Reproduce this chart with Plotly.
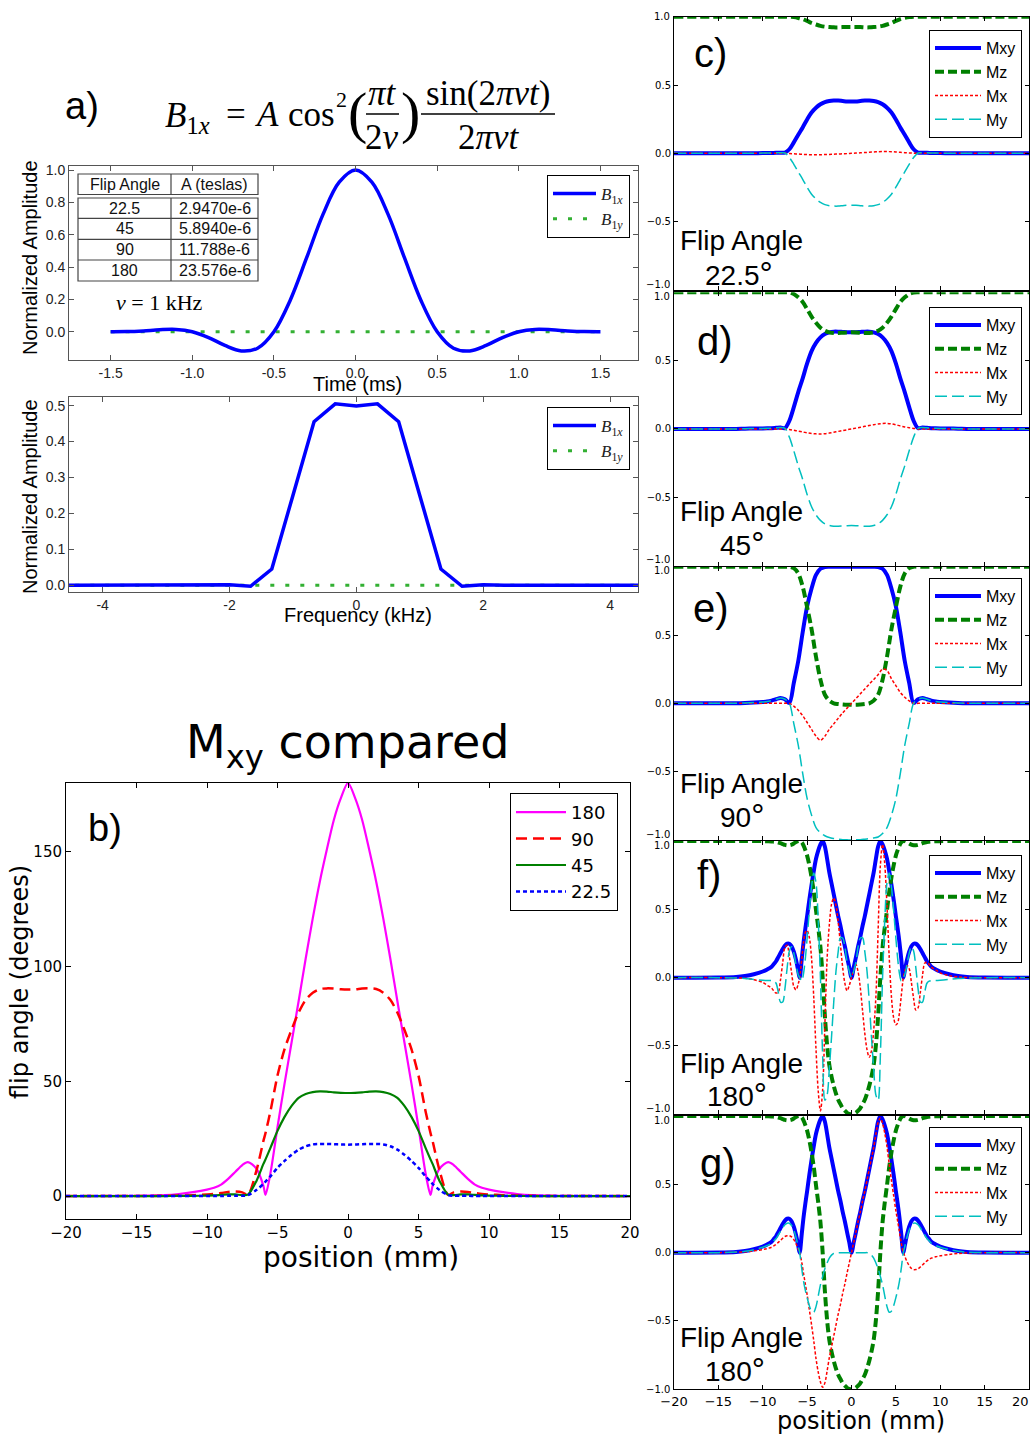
import plotly.graph_objects as go

W, H = 1034, 1437


def fx(px):
    return px / W


def fy(py):
    return 1 - py / H


# ============================ DATA ============================
# --- panel a (top): RF pulse in time ---
TIME_MS = [-1.5, -1.4, -1.3, -1.2, -1.1, -1.0, -0.9, -0.8, -0.7, -0.6, -0.5, -0.4, -0.3, -0.2, -0.1, 0.0,
           0.1, 0.2, 0.3, 0.4, 0.5, 0.6, 0.7, 0.8, 0.9, 1.0, 1.1, 1.2, 1.3, 1.4, 1.5]
B1X_TIME = [0.0, 0.0007, 0.005, 0.012, 0.014, 0.0, -0.036, -0.085, -0.119, -0.102, 0.0, 0.195, 0.456, 0.724, 0.925, 1.0,
            0.925, 0.724, 0.456, 0.195, 0.0, -0.102, -0.119, -0.085, -0.036, 0.0, 0.014, 0.012, 0.005, 0.0007, 0.0]
B1Y_TIME = [0.0, 0.0, 0.0, 0.0, 0.0, 0.0, 0.0, 0.0, 0.0, 0.0, 0.0, 0.0, 0.0, 0.0, 0.0, 0.0,
            0.0, 0.0, 0.0, 0.0, 0.0, 0.0, 0.0, 0.0, 0.0, 0.0, 0.0, 0.0, 0.0, 0.0, 0.0]

# --- panel a (bottom): spectrum ---
FREQ_KHZ = [-4.667, -4.333, -4.0, -3.667, -3.333, -3.0, -2.667, -2.333, -2.0, -1.667, -1.333, -1.0, -0.667, -0.333, 0.0,
            0.333, 0.667, 1.0, 1.333, 1.667, 2.0, 2.333, 2.667, 3.0, 3.333, 3.667, 4.0, 4.333, 4.667]
B1X_FREQ = [0.0, 0.0, 0.0, 0.0, 0.0, 0.0, 0.0005, 0.0, 0.0015, -0.003, 0.045, 0.25, 0.455, 0.505, 0.499,
            0.505, 0.455, 0.25, 0.045, -0.003, 0.0015, 0.0, 0.0005, 0.0, 0.0, 0.0, 0.0, 0.0, 0.0]
B1Y_FREQ = [0.0, 0.0, 0.0, 0.0, 0.0, 0.0, 0.0, 0.0, 0.0, 0.0, 0.0, 0.0, 0.0, 0.0, 0.0,
            0.0, 0.0, 0.0, 0.0, 0.0, 0.0, 0.0, 0.0, 0.0, 0.0, 0.0, 0.0, 0.0, 0.0]

TABLE_HEADER = ["Flip Angle", "A (teslas)"]
TABLE_FLIP = ["22.5", "45", "90", "180"]
TABLE_AMP = ["2.9470e-6", "5.8940e-6", "11.788e-6", "23.576e-6"]

# --- panel b: flip angle profiles ---
POS_B = [-20, -15, -13, -12, -11, -10, -9.5, -9, -8.5, -8, -7.5, -7.1, -6.5, -6, -5.85, -5.5, -5, -4.5, -4, -3.5, -3,
         -2.5, -2, -1.5, -1, -0.5, 0, 0.5, 1, 1.5, 2, 2.5, 3, 3.5, 4, 4.5, 5, 5.5, 5.85, 6, 6.5, 7.1, 7.5, 8, 8.5, 9,
         9.5, 10, 11, 12, 13, 15, 20]
FLIP_180 = [0, 0.1, 0.4, 0.9, 1.7, 2.8, 3.6, 5.0, 7.5, 10.5, 13.5, 14.8, 12.0, 4.5, 0.5, 10.0, 30.0, 49.0, 67.0, 85.0,
            103.5, 121.0, 137.0, 151.0, 164.0, 173.5, 180.0, 173.5, 164.0, 151.0, 137.0, 121.0, 103.5, 85.0, 67.0,
            49.0, 30.0, 10.0, 0.5, 4.5, 12.0, 14.8, 13.5, 10.5, 7.5, 5.0, 3.6, 2.8, 1.7, 0.9, 0.4, 0.1, 0]
FLIP_90 = [0, 0, 0.1, 0.2, 0.4, 0.7, 0.9, 1.3, 1.8, 2.0, 1.6, 0.5, 11.0, 24.0, 27.5, 37.0, 52.5, 64.0, 72.5, 80.0,
           85.5, 88.6, 90.2, 90.5, 90.4, 90.1, 90.0, 90.1, 90.4, 90.5, 90.2, 88.6, 85.5, 80.0, 72.5, 64.0, 52.5,
           37.0, 27.5, 24.0, 11.0, 0.5, 1.6, 2.0, 1.8, 1.3, 0.9, 0.7, 0.4, 0.2, 0.1, 0, 0]
FLIP_45 = [0, 0, 0, 0.05, 0.1, 0.2, 0.3, 0.5, 0.7, 0.7, 0.4, 0.6, 6.5, 14.0, 16.0, 21.0, 28.4, 34.5, 39.3, 42.8,
           44.5, 45.3, 45.6, 45.5, 45.2, 45.0, 44.9, 45.0, 45.2, 45.5, 45.6, 45.3, 44.5, 42.8, 39.3, 34.5, 28.4,
           21.0, 16.0, 14.0, 6.5, 0.6, 0.4, 0.7, 0.7, 0.5, 0.3, 0.2, 0.1, 0.05, 0, 0, 0]
FLIP_22_5 = [0, 0, 0, 0, 0, 0.02, 0.03, 0.05, 0.1, 0.15, 0.1, 0.4, 2.6, 5.3, 6.3, 8.6, 12.3, 15.3, 18.0, 20.2,
             21.7, 22.5, 22.7, 22.7, 22.6, 22.45, 22.4, 22.45, 22.6, 22.7, 22.7, 22.5, 21.7, 20.2, 18.0, 15.3, 12.3,
             8.6, 6.3, 5.3, 2.6, 0.4, 0.1, 0.15, 0.1, 0.05, 0.03, 0.02, 0, 0, 0, 0, 0]
B_NAMES = ["180", "90", "45", "22.5"]

# --- panels c, d, e: magnetization for 22.5, 45, 90 degrees ---
POS_R = [-20, -15, -13, -12, -11, -10, -9.5, -9, -8.5, -8, -7.5, -7, -6.5, -6, -5.5, -5, -4.5, -4, -3.5, -3, -2.5,
         -2, -1.5, -1, -0.5, 0, 0.5, 1, 1.5, 2, 2.5, 3, 3.5, 4, 4.5, 5, 5.5, 6, 6.5, 7, 7.5, 8, 8.5, 9, 9.5, 10, 11,
         12, 13, 15, 20]

MXY_22 = [0, 0, 0, 0.001, 0.001, 0.002, 0.002, 0.003, 0.004, 0.004, 0.006, 0.03, 0.08, 0.136, 0.19, 0.248, 0.299,
          0.334, 0.359, 0.375, 0.383, 0.386, 0.386, 0.383, 0.38, 0.379, 0.38, 0.383, 0.386, 0.386, 0.383, 0.375,
          0.359, 0.334, 0.299, 0.248, 0.19, 0.136, 0.08, 0.03, 0.006, 0.004, 0.004, 0.003, 0.002, 0.002, 0.001,
          0.001, 0, 0, 0]
MZ_22 = [1, 1, 1, 1, 1, 1, 1, 1, 1, 1, 1, 0.9995, 0.997, 0.991, 0.982, 0.969, 0.954, 0.943, 0.933, 0.927, 0.924,
         0.922, 0.922, 0.924, 0.925, 0.925, 0.925, 0.924, 0.922, 0.922, 0.924, 0.927, 0.933, 0.943, 0.954, 0.969,
         0.982, 0.991, 0.997, 0.9995, 1, 1, 1, 1, 1, 1, 1, 1, 1, 1, 1]
MX_22 = [0, 0, 0, 0, 0, 0, 0, 0, 0, 0, 0, -0.001, -0.003, -0.005, -0.007, -0.009, -0.01, -0.01, -0.01, -0.009,
         -0.008, -0.006, -0.005, -0.003, -0.002, 0, 0.002, 0.004, 0.006, 0.008, 0.01, 0.012, 0.013, 0.013, 0.012,
         0.01, 0.008, 0.005, 0.003, 0.001, 0, 0, 0, 0, 0, 0, 0, 0, 0, 0, 0]
MY_22 = [0, 0, 0, 0.001, 0.001, 0.002, 0.002, 0.003, 0.004, 0.004, 0.003, -0.03, -0.08, -0.136, -0.19, -0.248,
         -0.299, -0.334, -0.359, -0.375, -0.383, -0.386, -0.386, -0.383, -0.38, -0.379, -0.38, -0.383, -0.386,
         -0.386, -0.383, -0.375, -0.359, -0.334, -0.299, -0.248, -0.19, -0.136, -0.08, -0.03, 0.003, 0.004, 0.004,
         0.003, 0.002, 0.002, 0.001, 0.001, 0, 0, 0]

MXY_45 = [0, 0, 0, 0.002, 0.003, 0.004, 0.005, 0.006, 0.008, 0.01, 0.006, 0.06, 0.16, 0.27, 0.37, 0.48, 0.57, 0.63,
          0.67, 0.695, 0.707, 0.712, 0.712, 0.71, 0.708, 0.707, 0.708, 0.71, 0.712, 0.712, 0.707, 0.695, 0.67, 0.63,
          0.57, 0.48, 0.37, 0.27, 0.16, 0.06, 0.006, 0.01, 0.008, 0.006, 0.005, 0.004, 0.003, 0.002, 0, 0, 0]
MZ_45 = [1, 1, 1, 1, 1, 1, 1, 1, 1, 0.9999, 1, 0.998, 0.987, 0.963, 0.929, 0.877, 0.822, 0.777, 0.741, 0.719, 0.707,
         0.702, 0.702, 0.704, 0.706, 0.707, 0.706, 0.704, 0.702, 0.702, 0.707, 0.719, 0.741, 0.777, 0.822, 0.877,
         0.929, 0.963, 0.987, 0.998, 1, 0.9999, 1, 1, 1, 1, 1, 1, 1, 1, 1]
MX_45 = [0, 0, 0, 0, 0, 0, 0, 0, 0, 0, 0, -0.004, -0.01, -0.016, -0.022, -0.028, -0.033, -0.036, -0.037, -0.035,
         -0.03, -0.024, -0.018, -0.012, -0.006, 0, 0.006, 0.012, 0.019, 0.025, 0.031, 0.036, 0.04, 0.041, 0.037,
         0.03, 0.022, 0.015, 0.009, 0.004, 0, 0, 0, 0, 0, 0, 0, 0, 0, 0, 0]
MY_45 = [0, 0, 0, 0.002, 0.003, 0.004, 0.005, 0.006, 0.008, 0.01, 0.004, -0.06, -0.16, -0.27, -0.369, -0.479,
         -0.569, -0.629, -0.669, -0.694, -0.706, -0.712, -0.712, -0.71, -0.708, -0.707, -0.708, -0.71, -0.712,
         -0.712, -0.706, -0.694, -0.669, -0.628, -0.569, -0.479, -0.369, -0.27, -0.16, -0.06, 0.004, 0.01, 0.008,
         0.006, 0.005, 0.004, 0.003, 0.002, 0, 0, 0]

MXY_90 = [0, 0, 0.001, 0.003, 0.006, 0.01, 0.013, 0.02, 0.03, 0.04, 0.03, 0.003, 0.15, 0.31, 0.52, 0.71, 0.84, 0.94,
          0.985, 0.998, 1.0, 1.0, 1.0, 1.0, 1.0, 1.0, 1.0, 1.0, 1.0, 1.0, 1.0, 0.998, 0.985, 0.94, 0.84, 0.71, 0.52,
          0.31, 0.15, 0.003, 0.03, 0.04, 0.03, 0.02, 0.013, 0.01, 0.006, 0.003, 0.001, 0, 0]
MZ_90 = [1, 1, 1, 1, 1, 1, 1, 1, 0.9995, 0.999, 0.9995, 1.0, 0.989, 0.951, 0.854, 0.704, 0.543, 0.341, 0.173, 0.063,
         0.02, 0.0, -0.005, -0.008, -0.01, -0.01, -0.01, -0.008, -0.005, 0.0, 0.02, 0.063, 0.173, 0.341, 0.543,
         0.704, 0.854, 0.951, 0.989, 1.0, 0.9995, 0.999, 0.9995, 1, 1, 1, 1, 1, 1, 1, 1]
MX_90 = [0, 0, 0, 0, 0, 0, 0, 0, 0, 0, 0, 0, -0.02, -0.05, -0.09, -0.14, -0.19, -0.24, -0.27, -0.24, -0.19, -0.15,
         -0.11, -0.07, -0.035, 0, 0.035, 0.07, 0.105, 0.14, 0.175, 0.21, 0.25, 0.24, 0.18, 0.13, 0.08, 0.045, 0.018,
         0, 0, 0, 0, 0, 0, 0, 0, 0, 0, 0, 0]
MY_90 = [0, 0, 0.001, 0.003, 0.006, 0.01, 0.013, 0.02, 0.03, 0.04, 0.03, 0.0, -0.149, -0.306, -0.512, -0.696,
         -0.818, -0.909, -0.947, -0.969, -0.982, -0.989, -0.994, -0.998, -0.999, -1.0, -0.999, -0.998, -0.994,
         -0.99, -0.985, -0.978, -0.953, -0.909, -0.82, -0.698, -0.514, -0.307, -0.149, 0.0, 0.03, 0.04, 0.03, 0.02,
         0.013, 0.01, 0.006, 0.003, 0.001, 0, 0]

# --- panels f, g: 180 degree pulses ---
POS_F = [-20, -15, -13, -12, -11, -10, -9.5, -9, -8.75, -8.5, -8.25, -8, -7.75, -7.5, -7.25, -7, -6.75, -6.5, -6.25,
         -6, -5.84, -5.6, -5.4, -5.2, -5, -4.75, -4.5, -4.25, -4, -3.75, -3.5, -3.25, -3, -2.75, -2.5, -2.25, -2,
         -1.75, -1.5, -1.25, -1, -0.75, -0.5, -0.25, 0, 0.25, 0.5, 0.75, 1, 1.25, 1.5, 1.75, 2, 2.25, 2.5, 2.75, 3,
         3.25, 3.5, 3.75, 4, 4.25, 4.5, 4.75, 5, 5.2, 5.4, 5.6, 5.84, 6, 6.25, 6.5, 6.75, 7, 7.25, 7.5, 7.75, 8,
         8.25, 8.5, 8.75, 9, 9.5, 10, 11, 12, 13, 15, 20]
MXY_180 = [0, 0.001, 0.005, 0.012, 0.025, 0.045, 0.06, 0.08, 0.10, 0.12, 0.15, 0.18, 0.21, 0.235, 0.248, 0.248,
           0.23, 0.19, 0.13, 0.05, 0.0, 0.14, 0.26, 0.36, 0.45, 0.57, 0.68, 0.78, 0.87, 0.93, 0.975, 1.0, 0.96,
           0.87, 0.77, 0.69, 0.61, 0.53, 0.45, 0.38, 0.30, 0.23, 0.15, 0.075, 0.0, 0.075, 0.15, 0.23, 0.30, 0.38,
           0.45, 0.53, 0.61, 0.69, 0.77, 0.87, 0.96, 1.0, 0.975, 0.93, 0.87, 0.78, 0.68, 0.57, 0.45, 0.36, 0.26,
           0.14, 0.0, 0.05, 0.13, 0.19, 0.23, 0.248, 0.248, 0.235, 0.21, 0.18, 0.15, 0.12, 0.10, 0.08, 0.06, 0.045,
           0.025, 0.012, 0.005, 0.001, 0]
MZ_180 = [1, 1, 1, 0.9999, 0.9997, 0.999, 0.998, 0.997, 0.995, 0.993, 0.989, 0.984, 0.978, 0.972, 0.969, 0.969,
          0.973, 0.982, 0.992, 0.999, 1.0, 0.99, 0.966, 0.933, 0.893, 0.822, 0.733, 0.626, 0.493, 0.368, 0.222, 0.0,
          -0.28, -0.493, -0.638, -0.724, -0.792, -0.848, -0.893, -0.925, -0.954, -0.973, -0.989, -0.997, -1.0,
          -0.997, -0.989, -0.973, -0.954, -0.925, -0.893, -0.848, -0.792, -0.724, -0.638, -0.493, -0.28, 0.0,
          0.222, 0.368, 0.493, 0.626, 0.733, 0.822, 0.893, 0.933, 0.966, 0.99, 1.0, 0.999, 0.992, 0.982, 0.973,
          0.969, 0.969, 0.972, 0.978, 0.984, 0.989, 0.993, 0.995, 0.997, 0.998, 0.999, 0.9997, 0.9999, 1, 1, 1]
MX_180_F = [0, 0, -0.002, -0.005, -0.015, -0.035, -0.056, -0.077, -0.097, -0.113, -0.106, -0.016, 0.111, 0.221,
            0.237, 0.153, 0.036, -0.065, -0.089, -0.045, 0, 0.138, 0.258, 0.331, 0.345, 0.294, 0.141, -0.149,
            -0.524, -0.829, -0.975, -0.819, -0.344, 0.136, 0.385, 0.536, 0.583, 0.528, 0.408, 0.244, 0.078, -0.040,
            -0.096, -0.057, 0, 0.057, 0.096, 0.040, -0.078, -0.244, -0.408, -0.528, -0.583, -0.536, -0.385, -0.136,
            0.344, 0.819, 0.975, 0.829, 0.524, 0.149, -0.141, -0.294, -0.345, -0.331, -0.258, -0.138, 0, 0.045,
            0.089, 0.065, -0.036, -0.153, -0.237, -0.221, -0.111, 0.016, 0.106, 0.113, 0.097, 0.077, 0.056, 0.035,
            0.015, 0.005, 0.002, 0, 0]
MY_180_F = [0, 0, -0.003, -0.006, -0.013, -0.019, -0.021, -0.021, -0.026, -0.041, -0.106, -0.179, -0.178, -0.080,
            0.072, 0.195, 0.227, 0.179, 0.095, 0.021, 0, -0.024, 0.032, 0.141, 0.289, 0.489, 0.665, 0.766, 0.695,
            0.422, 0.0, -0.574, -0.897, -0.860, -0.667, -0.434, -0.178, 0.046, 0.190, 0.291, 0.290, 0.227, 0.115,
            0.048, 0, 0.048, 0.115, 0.227, 0.290, 0.291, 0.190, 0.046, -0.178, -0.434, -0.667, -0.860, -0.897,
            -0.574, 0.0, 0.422, 0.695, 0.766, 0.665, 0.489, 0.289, 0.141, 0.032, -0.024, 0, 0.021, 0.095, 0.179,
            0.227, 0.195, 0.072, -0.080, -0.178, -0.179, -0.106, -0.041, -0.026, -0.021, -0.021, -0.019, -0.013,
            -0.006, -0.003, 0, 0]
MX_180_G = [0, 0, 0.0025, 0.006, 0.013, 0.023, 0.030, 0.040, 0.05, 0.06, 0.075, 0.09, 0.105, 0.118, 0.124, 0.124,
            0.115, 0.095, 0.065, 0.025, 0, -0.074, -0.153, -0.231, -0.307, -0.417, -0.528, -0.647, -0.775, -0.874,
            -0.946, -0.985, -0.953, -0.867, -0.769, -0.69, -0.61, -0.53, -0.45, -0.38, -0.30, -0.23, -0.15, -0.075,
            0, 0.075, 0.15, 0.23, 0.30, 0.38, 0.45, 0.53, 0.61, 0.69, 0.769, 0.867, 0.953, 0.985, 0.946, 0.874,
            0.775, 0.647, 0.528, 0.417, 0.307, 0.231, 0.153, 0.074, 0, -0.025, -0.065, -0.095, -0.115, -0.124,
            -0.124, -0.118, -0.105, -0.09, -0.075, -0.06, -0.05, -0.040, -0.030, -0.023, -0.013, -0.006, -0.0025,
            0, 0]
MY_180_G = [0, 0, 0.004, 0.010, 0.022, 0.039, 0.052, 0.069, 0.087, 0.104, 0.13, 0.156, 0.182, 0.204, 0.215, 0.215,
            0.199, 0.165, 0.113, 0.043, 0, -0.119, -0.21, -0.276, -0.329, -0.389, -0.428, -0.436, -0.395, -0.318,
            -0.236, -0.174, -0.117, -0.076, -0.04, -0.018, -0.005, 0, 0, 0, 0, 0, 0, 0, 0, 0, 0, 0, 0, 0, 0, 0,
            -0.005, -0.018, -0.04, -0.076, -0.117, -0.174, -0.236, -0.318, -0.395, -0.436, -0.428, -0.389, -0.329,
            -0.276, -0.21, -0.119, 0, 0.043, 0.113, 0.165, 0.199, 0.215, 0.215, 0.204, 0.182, 0.156, 0.13, 0.104,
            0.087, 0.069, 0.052, 0.039, 0.022, 0.010, 0.004, 0, 0]

M_NAMES = ["Mxy", "Mz", "Mx", "My"]

for arr in (B1X_TIME, B1Y_TIME):
    assert len(arr) == len(TIME_MS)
for arr in (B1X_FREQ, B1Y_FREQ):
    assert len(arr) == len(FREQ_KHZ)
for arr in (FLIP_180, FLIP_90, FLIP_45, FLIP_22_5):
    assert len(arr) == len(POS_B), len(arr)
for arr in (MXY_22, MZ_22, MX_22, MY_22, MXY_45, MZ_45, MX_45, MY_45, MXY_90, MZ_90, MX_90, MY_90):
    assert len(arr) == len(POS_R), len(arr)
for arr in (MXY_180, MZ_180, MX_180_F, MY_180_F, MX_180_G, MY_180_G):
    assert len(arr) == len(POS_F), len(arr)

# ============================ STYLE ============================
BLUE = "#0000ff"
GREEN = "#008000"
GREEN_A = "#33b033"
RED = "#ff0000"
CYAN = "#00bfbf"
MAGENTA = "#ff00ff"
SANS = "Liberation Sans"
MPL = "DejaVu Sans"
SERIF = "Liberation Serif"

fig = go.Figure()


def add_line(x, y, ax, name, color, width, dash="solid", legend="legend", shape="spline", smoothing=1.0, rank=None):
    sfx = "" if ax == 1 else str(ax)
    kw = {}
    if rank is not None:
        kw["legendrank"] = rank
    fig.add_trace(go.Scatter(
        x=x, y=y, mode="lines", name=name, xaxis="x" + sfx, yaxis="y" + sfx,
        line=dict(color=color, width=width, dash=dash, shape=shape, smoothing=smoothing),
        legend=legend, showlegend=True, hoverinfo="skip", **kw))


B1X_LABEL = "<i>B</i><sub>1<i>x</i></sub>"
B1Y_LABEL = "<i>B</i><sub>1<i>y</i></sub>"

# panel a top (green drawn underneath the blue pulse)
add_line(TIME_MS, B1Y_TIME, 1, B1Y_LABEL, GREEN_A, 3, dash="4px,11px", legend="legend", shape="linear", rank=2)
add_line(TIME_MS, B1X_TIME, 1, B1X_LABEL, BLUE, 3.5, legend="legend", rank=1)
# panel a bottom
add_line(FREQ_KHZ, B1Y_FREQ, 2, B1Y_LABEL, GREEN_A, 3, dash="4px,11px", legend="legend2", shape="linear", rank=2)
add_line(FREQ_KHZ, B1X_FREQ, 2, B1X_LABEL, BLUE, 3.5, legend="legend2", shape="linear", rank=1)
# panel b
b_styles = [(MAGENTA, 2.2, "solid"), (RED, 2.5, "11px,6px"), (GREEN, 2.2, "solid"), (BLUE, 2.5, "4px,3px")]
for name, ys, (col, wd, ds) in zip(B_NAMES, [FLIP_180, FLIP_90, FLIP_45, FLIP_22_5], b_styles):
    add_line(POS_B, ys, 3, name, col, wd, dash=ds, legend="legend3", smoothing=0.8)

# right panels
m_styles = [(BLUE, 4, "solid"), (GREEN, 4, "9px,4px"), (RED, 1.5, "3px,2px"), (CYAN, 1.5, "12px,5px")]
right_sets = [
    (POS_R, [MXY_22, MZ_22, MX_22, MY_22]),
    (POS_R, [MXY_45, MZ_45, MX_45, MY_45]),
    (POS_R, [MXY_90, MZ_90, MX_90, MY_90]),
    (POS_F, [MXY_180, MZ_180, MX_180_F, MY_180_F]),
    (POS_F, [MXY_180, MZ_180, MX_180_G, MY_180_G]),
]
for k, (xs, series) in enumerate(right_sets):
    ax = 4 + k
    for name, ys, (col, wd, ds) in zip(M_NAMES, series, m_styles):
        add_line(xs, ys, ax, name, col, wd, dash=ds, legend="legend%d" % ax, smoothing=0.9)

# ============================ AXES ============================
base = dict(showgrid=False, zeroline=False, showline=True, ticks="inside", mirror="ticks", automargin=False,
            linewidth=1, linecolor="black", tickcolor="black", ticklen=5)

layout = dict(width=W, height=H, margin=dict(l=0, r=0, t=0, b=0, pad=0), autosize=False,
              paper_bgcolor="white", plot_bgcolor="white")

A_FONT = dict(family=SANS, size=14, color="#222")
# a top
layout["xaxis"] = dict(base, domain=[fx(69), fx(638)], anchor="y", range=[-1.755, 1.73],
                       tickvals=[-1.5, -1.0, -0.5, 0.0, 0.5, 1.0, 1.5],
                       ticktext=["-1.5", "-1.0", "-0.5", "0.0", "0.5", "1.0", "1.5"],
                       linecolor="#555", tickcolor="#555", tickfont=A_FONT)
layout["yaxis"] = dict(base, domain=[fy(360), fy(166)], anchor="x", range=[-0.175, 1.025],
                       tickvals=[0.0, 0.2, 0.4, 0.6, 0.8, 1.0],
                       ticktext=["0.0", "0.2", "0.4", "0.6", "0.8", "1.0"],
                       linecolor="#555", tickcolor="#555", tickfont=A_FONT)
# a bottom
layout["xaxis2"] = dict(base, domain=[fx(69), fx(638)], anchor="y2", range=[-4.53, 4.44],
                        tickvals=[-4, -2, 0, 2, 4], ticktext=["-4", "-2", "0", "2", "4"],
                        linecolor="#555", tickcolor="#555", tickfont=A_FONT)
layout["yaxis2"] = dict(base, domain=[fy(592), fy(397)], anchor="x2", range=[-0.019, 0.524],
                        tickvals=[0.0, 0.1, 0.2, 0.3, 0.4, 0.5],
                        ticktext=["0.0", "0.1", "0.2", "0.3", "0.4", "0.5"],
                        linecolor="#555", tickcolor="#555", tickfont=A_FONT)
# b
layout["xaxis3"] = dict(base, domain=[fx(66), fx(630)], anchor="y3", range=[-20, 20],
                        tickvals=[-20, -15, -10, -5, 0, 5, 10, 15, 20],
                        ticktext=["\u221220", "\u221215", "\u221210", "\u22125", "0", "5", "10", "15", "20"],
                        tickfont=dict(family=MPL, size=15, color="black"))
layout["yaxis3"] = dict(base, domain=[fy(1219), fy(783)], anchor="x3", range=[-10, 180],
                        tickvals=[0, 50, 100, 150], ticktext=["0", "50", "100", "150"],
                        tickfont=dict(family=MPL, size=15, color="black"))

RIGHT_TOPS = [16.7, 292.3, 566.7, 841.0, 1116.0]
RIGHT_H = 273.3
for k, top in enumerate(RIGHT_TOPS):
    ax = 4 + k
    last = (k == len(RIGHT_TOPS) - 1)
    layout["xaxis%d" % ax] = dict(base, domain=[fx(674), fx(1029)], anchor="y%d" % ax, range=[-20, 20],
                                  tickvals=[-20, -15, -10, -5, 0, 5, 10, 15],
                                  ticktext=["\u221220", "\u221215", "\u221210", "\u22125", "0", "5", "10", "15"],
                                  showticklabels=last, ticklen=4,
                                  tickfont=dict(family=MPL, size=13, color="black"))
    layout["yaxis%d" % ax] = dict(base, domain=[fy(top + RIGHT_H), fy(top)], anchor="x%d" % ax, range=[-1, 1],
                                  tickvals=[-0.5, 0, 0.5],
                                  ticktext=["\u22120.5", "0.0", "0.5"], ticklen=4,
                                  tickfont=dict(family=MPL, size=10, color="black"))

# ============================ LEGENDS ============================
leg_base = dict(xanchor="left", yanchor="top", bgcolor="white", bordercolor="black", borderwidth=1,
                tracegroupgap=0, itemclick=False, itemdoubleclick=False)
layout["legend"] = dict(leg_base, x=fx(547), y=fy(175), itemwidth=43,
                        font=dict(family=SERIF, size=17, color="#222"))
layout["legend2"] = dict(leg_base, x=fx(547), y=fy(407), itemwidth=43,
                         font=dict(family=SERIF, size=17, color="#222"))
layout["legend3"] = dict(leg_base, x=fx(510), y=fy(793), itemwidth=50,
                         font=dict(family=MPL, size=18, color="black"))
LEG_TOPS = [30, 307, 578, 855, 1127]
for k, t in enumerate(LEG_TOPS):
    layout["legend%d" % (4 + k)] = dict(leg_base, x=fx(929), y=fy(t), itemwidth=46,
                                        font=dict(family=SANS, size=16, color="black"))

# ============================ ANNOTATIONS ============================
anns = []


def ann(text, x, y, size, family=SANS, xanchor="center", yanchor="middle", angle=0, color="black"):
    anns.append(dict(text=text, x=fx(x), y=fy(y), xref="paper", yref="paper", showarrow=False,
                     xanchor=xanchor, yanchor=yanchor, textangle=angle,
                     font=dict(family=family, size=size, color=color)))


shapes = []


def hline(x0, x1, y, width=1.5, color="black"):
    shapes.append(dict(type="line", xref="paper", yref="paper", x0=fx(x0), x1=fx(x1), y0=fy(y), y1=fy(y),
                       line=dict(color=color, width=width)))


def vline(x, y0, y1, width=1.2, color="#444"):
    shapes.append(dict(type="line", xref="paper", yref="paper", x0=fx(x), x1=fx(x), y0=fy(y0), y1=fy(y1),
                       line=dict(color=color, width=width)))


# panel a: label and equation
ann("a)", 82, 106, 38)
EQ = 35
ann("<i>B</i><sub>1<i>x</i></sub>", 187, 118, EQ, family=SERIF)
ann("=", 236, 114, EQ, family=SERIF)
ann("<i>A</i>", 267, 114, EQ, family=SERIF)
ann("cos", 311, 114, EQ, family=SERIF)
ann("2", 341, 99, 22, family=SERIF)
ann("(", 357, 113, 58, family=SERIF)
ann("<i>\u03c0t</i>", 382, 93, EQ, family=SERIF)
hline(366, 399, 114)
ann("2<i>\u03bd</i>", 382, 137, EQ, family=SERIF)
ann(")", 410, 113, 58, family=SERIF)
ann("sin(2<i>\u03c0\u03bdt</i>)", 488, 93, EQ, family=SERIF)
hline(421, 555, 114)
ann("2<i>\u03c0\u03bdt</i>", 489, 137, EQ, family=SERIF)
ann("<i>\u03bd</i> = 1 kHz", 159, 303, 22, family=SERIF)

# table
TL, TM, TR = 78, 171, 258
TABLE_ROWS_Y = [198, 218.3, 239.3, 260, 281]
shapes.append(dict(type="rect", xref="paper", yref="paper", x0=fx(TL), x1=fx(TR), y0=fy(194.5), y1=fy(174),
                   line=dict(color="#444", width=1.2)))
vline(TM, 174, 194.5)
shapes.append(dict(type="rect", xref="paper", yref="paper", x0=fx(TL), x1=fx(TR), y0=fy(281), y1=fy(198),
                   line=dict(color="#444", width=1.2)))
for yy in TABLE_ROWS_Y[1:-1]:
    hline(TL, TR, yy, width=1.2, color="#444")
vline(TM, 198, 281)
ann(TABLE_HEADER[0], (TL + TM) / 2, 184.5, 16, color="#111")
ann(TABLE_HEADER[1], (TM + TR) / 2, 184.5, 16, color="#111")
for i, (fa, amp) in enumerate(zip(TABLE_FLIP, TABLE_AMP)):
    yc = (TABLE_ROWS_Y[i] + TABLE_ROWS_Y[i + 1]) / 2
    ann(fa, (TL + TM) / 2, yc, 16, color="#111")
    ann(amp, (TM + TR) / 2, yc, 16, color="#111")

# axis titles panel a
ann("Normalized Amplitude", 30, 258, 20, angle=-90)
ann("Time (ms)", 357, 384, 20)
ann("Normalized Amplitude", 30, 497, 20, angle=-90)
ann("Frequency (kHz)", 358, 615, 20)

# panel b
ann("M<sub>xy</sub> compared", 347, 745, 46, family=MPL)
ann("b)", 105, 828, 38)
ann("flip angle (degrees)", 20, 982, 24, family=MPL, angle=-90)
ann("position (mm)", 361, 1257, 28, family=MPL)

# right panels
PANEL_LABELS = ["c)", "d)", "e)", "f)", "g)"]
PANEL_ANGLES = ["22.5", "45", "90", "180", "180"]
LABEL_POS = [(710, 53), (715, 341), (711, 608), (709, 875), (718, 1163)]
FLIP_TXT_Y = [(240, 273), (512, 544), (783, 815), (1063, 1094), (1337, 1369)]
FLIP_NUM_X = [703, 718, 718, 705, 703]
for k, (lab, angl, (lx, ly), (ty1, ty2), nx) in enumerate(
        zip(PANEL_LABELS, PANEL_ANGLES, LABEL_POS, FLIP_TXT_Y, FLIP_NUM_X)):
    ann(lab, lx, ly, 40)
    ann("Flip Angle", 678, ty1, 28, xanchor="left")
    ann(angl + "<span style='font-size:33px'>\u00b0</span>", nx, ty2, 28, xanchor="left")
    top = RIGHT_TOPS[k]
    bot = top + RIGHT_H
    # +1.0 / -1.0 tick labels (nudged like in the stacked original)
    ann("1.0", 672, top + (0 if k == 0 else 4), 10, family=MPL, xanchor="right")
    ann("\u22121.0", 672, bot - (0 if k == 4 else 6), 10, family=MPL, xanchor="right")
# last x tick label of panel g sits at the figure edge
ann("20", 1020, 1401, 13, family=MPL)
ann("position (mm)", 861, 1421, 24, family=MPL)

layout["annotations"] = anns
layout["shapes"] = shapes
fig.update_layout(**layout)
fig.write_html("out.html")
